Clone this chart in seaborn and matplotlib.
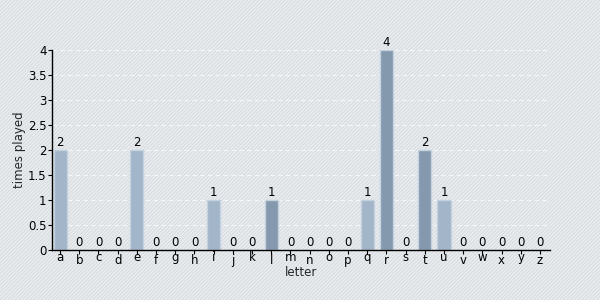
import matplotlib
matplotlib.use("Agg")
import matplotlib.pyplot as plt
import seaborn as sns
import pandas as pd
from matplotlib.patches import Rectangle

letters = list("abcdefghijklmnopqrstuvwxyz")
times_played = [2, 0, 0, 0, 2, 0, 0, 0, 1, 0, 0, 1, 0, 0, 0, 0, 1, 4, 0, 2, 1, 0, 0, 0, 0, 0]
dark_letters = ["l", "r", "t"]

light_col = "#a2b5c9"
dark_col = "#8599ae"
palette = {l: (dark_col if l in dark_letters else light_col) for l in letters}

df = pd.DataFrame({"letter": letters, "times played": times_played})

sns.set_theme(style="white")
plt.rcParams["font.family"] = ["DejaVu Sans"]
plt.rcParams["hatch.linewidth"] = 0.7

fig = plt.figure(figsize=(6, 3), dpi=100)
fig.patch.set_facecolor("#eaedf0")
bg = Rectangle((0, 0), 1, 1, transform=fig.transFigure, facecolor="#eaedf0",
               edgecolor="#d5dade", hatch="/" * 9, linewidth=0, zorder=-10)
fig.patches.append(bg)

ax = fig.add_axes([52 / 600, 50 / 300, 498 / 600, 200 / 300])
ax.patch.set_alpha(0)

sns.barplot(data=df, x="letter", y="times played", hue="letter", palette=palette,
            legend=False, width=0.68, edgecolor="#c4d2e0", linewidth=1, ax=ax,
            saturation=1)

for i, v in enumerate(times_played):
    ax.text(i, v + 0.02, str(v), ha="center", va="bottom", fontsize=8.5, color="black")

ax.set_ylim(0, 4)
ax.set_xlim(-0.42, 25.52)
ax.set_yticks([0, 0.5, 1, 1.5, 2, 2.5, 3, 3.5, 4])
ax.set_yticklabels(["0", "0.5", "1", "1.5", "2", "2.5", "3", "3.5", "4"])
ax.yaxis.grid(True, color="white", linestyle=(0, (4, 3)), linewidth=0.8, alpha=0.7)
ax.set_axisbelow(True)

for s in ["top", "right"]:
    ax.spines[s].set_visible(False)
for s in ["left", "bottom"]:
    ax.spines[s].set_color("black")
    ax.spines[s].set_linewidth(1)

ax.tick_params(axis="both", which="both", labelsize=8.5, colors="black",
               length=3, width=0.8, direction="out", bottom=True, left=True)
ax.tick_params(axis="x", pad=-2)
ax.tick_params(axis="y", pad=1)
for i, t in enumerate(ax.xaxis.get_major_ticks()):
    if i % 2 == 1:
        t.set_pad(0)

ax.set_xlabel("letter", fontsize=8.5, labelpad=-1)
ax.set_ylabel("times played", fontsize=8.5, labelpad=1)

fig.savefig("out.png", dpi=100, facecolor=fig.get_facecolor())
